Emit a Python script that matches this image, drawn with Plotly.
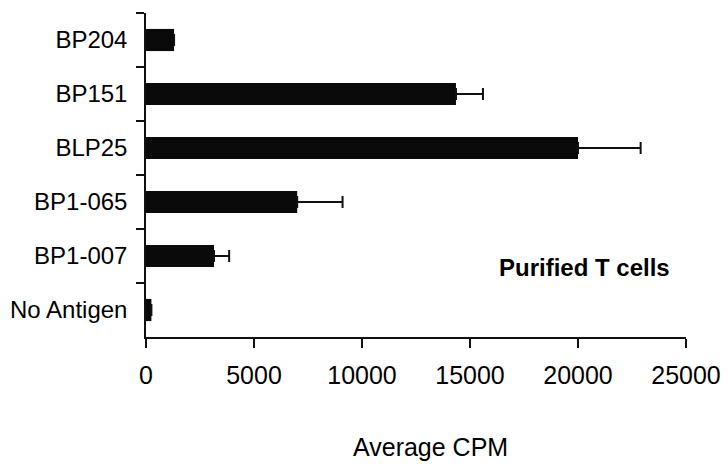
import plotly.graph_objects as go

# Antigens, listed top to bottom
antigens = ["BP204", "BP151", "BLP25", "BP1-065", "BP1-007", "No Antigen"]
avg_cpm = [1300, 14350, 20000, 7000, 3150, 250]
cpm_err = [0, 1250, 2900, 2100, 700, 0]

x_ticks = [0, 5000, 10000, 15000, 20000, 25000]

FONT = "Liberation Sans, Arial, sans-serif"

fig = go.Figure()
fig.add_trace(go.Bar(
    y=antigens,
    x=avg_cpm,
    orientation="h",
    width=0.41,
    marker=dict(color="#0a0a0a", line=dict(width=0)),
    error_x=dict(type="data", array=cpm_err, arrayminus=[0] * len(cpm_err),
                 symmetric=False, color="#111111", thickness=2, width=6),
))

fig.add_annotation(text="<b>Purified T cells</b>", xref="paper", yref="paper",
                   x=0.812, y=0.213, xanchor="center", yanchor="middle",
                   showarrow=False,
                   font=dict(family=FONT, size=24, color="#000000"))
fig.add_annotation(text="Average CPM", xref="paper", yref="paper",
                   x=0.526, y=0, yshift=-110, xanchor="center", yanchor="middle",
                   showarrow=False,
                   font=dict(family=FONT, size=25, color="#000000"))

fig.update_layout(
    width=728, height=464,
    margin=dict(l=146, r=42, t=13, b=127),
    paper_bgcolor="white", plot_bgcolor="white",
    showlegend=False,
    font=dict(family=FONT, size=24, color="#000000"),
    xaxis=dict(range=[0, 25000], tickvals=x_ticks, ticktext=[str(v) for v in x_ticks],
               showgrid=False, zeroline=False, showline=True, linecolor="#111111",
               linewidth=1.5, ticks="outside", ticklen=9, tickwidth=1.5,
               tickcolor="#111111", ticklabelstandoff=6, automargin=False,
               tickfont=dict(family=FONT, size=25, color="#000000")),
    yaxis=dict(autorange="reversed", type="category", showgrid=False, zeroline=False,
               showline=True, linecolor="#111111", linewidth=1.5, ticks="outside",
               ticklen=8, tickwidth=1.5, tickcolor="#111111", tickson="boundaries",
               ticklabelstandoff=12, automargin=False,
               tickfont=dict(family=FONT, size=24, color="#000000")),
)

fig.write_html("out.html")
